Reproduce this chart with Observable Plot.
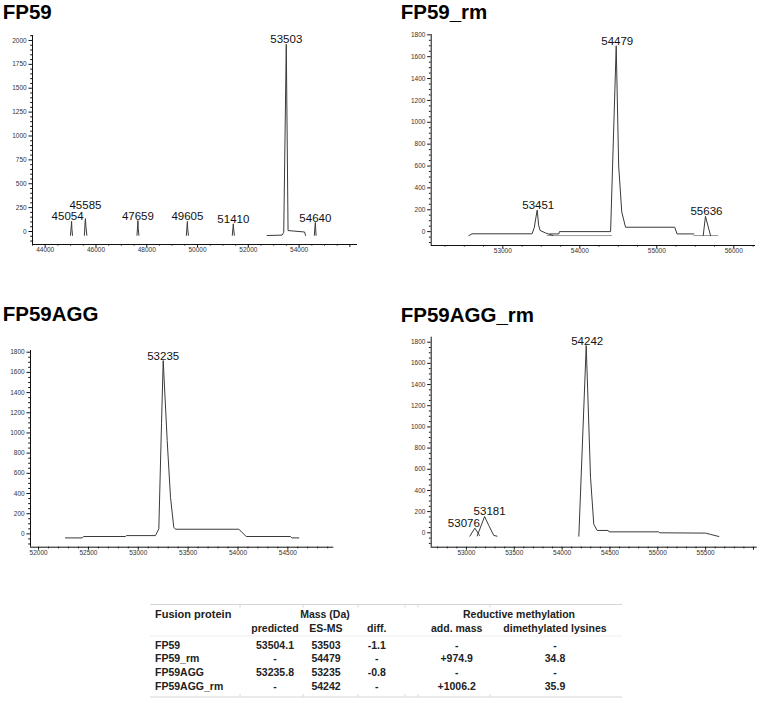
<!DOCTYPE html>
<html><head><meta charset="utf-8">
<script src="https://cdn.jsdelivr.net/npm/d3@7"></script>
<script src="https://cdn.jsdelivr.net/npm/@observablehq/plot@0.6"></script>
<style>
html,body{margin:0;padding:0;background:#fff;}
#root{position:relative;width:760px;height:705px;overflow:hidden;font-family:"Liberation Sans",Arial,sans-serif;}
#root svg{position:absolute;}
</style></head><body><div id="root"></div>
<script>
// ---------- DATA ----------
// FP59 deconvoluted spectrum: [mass (Da), intensity]
const fp59Dark = [
  [[44995,-40],[45025,50],[45040,105],[45052,30],[45075,-40]],
  [[45545,-40],[45570,90],[45585,135],[45605,50],[45640,-40]],
  [[47615,-40],[47640,60],[47652,115],[47665,30],[47690,-40]],
  [[49560,-40],[49585,50],[49600,105],[49612,30],[49640,-40]],
  [[51370,-40],[51395,40],[51410,80],[51422,30],[51450,-40]],
  [[52740,-42],[53330,-38],[53395,-8],[53495,1960],[53565,10],[54215,-5],[54255,-42]],
  [[54600,-40],[54625,50],[54640,94],[54652,30],[54670,-40]]
];
const fp59Light = [];
const fp59Labels = ["45054","45585","47659","49605","51410","53503","54640"];
const fp59LabelMass = [45040,45585,47652,49600,51410,53495,54640];
const fp59LabelIntensity = [105,135,115,105,80,1960,94];

// FP59_rm
const fp59rmDark = [
  [[52560,-36],[52600,-20],[53380,-20],[53410,40],[53430,130],[53447,197],[53465,60],[53485,10],[53555,-12],[53650,-36]],
  [[53611,-21],[53728,-21],[53735,0],[54400,0],[54473,1700],[54505,600],[54545,180],[54594,40],[55234,40],[55263,-21],[55481,-21]],
  [[55603,-36],[55632,140],[55698,-36]]
];
const fp59rmLight = [
  [[53575,-36],[54412,-36]],
  [[55481,-36],[55793,-36]]
];
const fp59rmLabels = ["53451","54479","55636"];
const fp59rmLabelMass = [53447,54473,55632];
const fp59rmLabelIntensity = [197,1700,140];

// FP59AGG
const fp59aggDark = [
  [[52270,-40],[52437,-40],[52453,-26],[52872,-26],[52880,-17],[53172,-17],[53206,50],[53233,1090],[53250,1717],[53290,925],[53323,363],[53356,66],[53373,46],[54008,46],[54030,26],[54082,-26],[54527,-26],[54540,-40],[54610,-40]]
];
const fp59aggLight = [];
const fp59aggLabels = ["53235"];
const fp59aggLabelMass = [53250];
const fp59aggLabelIntensity = [1717];

// FP59AGG_rm
const fp59aggrmDark = [
  [[53036,-32],[53088,44],[53137,-25]],
  [[53113,-30],[53190,154],[53234,69],[53286,-25],[53320,-32]],
  [[54175,-32],[54252,1768],[54297,525],[54331,80],[54367,22],[54482,22],[54490,9],[55011,9],[55020,0],[55499,-3],[55551,-15],[55638,-35]]
];
const fp59aggrmLight = [];
const fp59aggrmLabels = ["53076","53181","54242"];
const fp59aggrmLabelMass = [53088,53190,54252];
const fp59aggrmLabelIntensity = [44,154,1768];

// axis tick labels
const fp59XTicks = [44000,46000,48000,50000,52000,54000,56000];
const fp59XTickText = ["44000","46000","48000","50000","52000","54000",""];
const fp59YTicks = [0,250,500,750,1000,1250,1500,1750,2000];
const fp59rmXTicks = [53000,54000,55000,56000];
const fp59rmXTickText = ["53000","54000","55000","56000"];
const yTicks1800 = [0,200,400,600,800,1000,1200,1400,1600,1800];
const fp59aggXTicks = [52000,52500,53000,53500,54000,54500];
const fp59aggXTickText = ["52000","52500","53000","53500","54000","54500"];
const fp59aggrmXTicks = [53000,53500,54000,54500,55000,55500,56000];
const fp59aggrmXTickText = ["53000","53500","54000","54500","55000","55500",""];

// table
const tableGroups = ["Mass (Da)","Reductive methylation"];
const tableColumns = ["predicted","ES-MS","diff.","add. mass","dimethylated lysines"];
const proteins = ["FP59","FP59_rm","FP59AGG","FP59AGG_rm"];
const predicted = ["53504.1","-","53235.8","-"];
const esms = ["53503","54479","53235","54242"];
const diffs = ["-1.1","-","-0.8","-"];
const addMass = ["-","+974.9","-","+1006.2"];
const dimethyl = ["-","34.8","-","35.9"];

// ---------- DRAWING ----------
const FONT = '"Liberation Sans", Arial, sans-serif';
const root = document.getElementById("root");

function rows(segs){ const out=[]; segs.forEach((s,i)=>s.forEach(p=>out.push({seg:i,x:p[0],y:p[1]}))); return out; }

function panel(cfg){
  const [x0,x1]=cfg.xDomain, [y0,y1]=cfg.yDomain;
  const xMinor = d3.range(cfg.xMinorStart, x1, cfg.xMinorStep).filter(v=>!cfg.xTicks.includes(v));
  const yMinor = d3.range(cfg.yMinorStart, y1, cfg.yMinorStep).filter(v=>!cfg.yTicks.includes(v));
  const xText = new Map(cfg.xTicks.map((t,i)=>[t,cfg.xTickText[i]]));
  const marks = [
    Plot.axisX({ticks: xMinor, tickSize: 1.6, text: null, label: null, anchor: "bottom", stroke:"#111"}),
    Plot.axisX({ticks: cfg.xTicks, tickSize: 3, tickPadding: 0, fontSize: 6.5, tickFormat: d=>xText.get(d), label: null, anchor: "bottom", fill:"#333", stroke:"#111"}),
    Plot.axisY({ticks: yMinor, tickSize: 1.8, text: null, label: null, anchor: "left", stroke:"#111"}),
    Plot.axisY({ticks: cfg.yTicks, tickSize: 3.5, tickPadding: 2.3, fontSize: 6.5, tickFormat: d=>String(d), label: null, anchor: "left", fill:"#333", stroke:"#111"}),
    Plot.ruleX([x0], {stroke:"#111", strokeWidth:1}),
    Plot.ruleY([y0], {stroke:"#111", strokeWidth:1}),
    Plot.line(rows(cfg.light), {x:"x", y:"y", z:"seg", stroke:"#9a9a9a", strokeWidth:1}),
    Plot.line(rows(cfg.dark), {x:"x", y:"y", z:"seg", stroke:"#3a3a3a", strokeWidth:1})
  ];
  cfg.labels.forEach((t,i)=>{
    const sh = cfg.labelShift[i] || [0,0];
    marks.push(Plot.text([{x:cfg.labelMass[i], y:cfg.labelIntensity[i], t}], {x:"x", y:"y", text:"t", lineAnchor:"bottom", textAnchor:"middle", fontSize:11.5, fill:"#111", dx: sh[0], dy: -1 + sh[1]}));
  });
  const svg = Plot.plot({
    width: cfg.width, height: cfg.height,
    marginLeft: cfg.ml, marginRight: cfg.mr, marginTop: cfg.mt, marginBottom: cfg.mb,
    x: {domain: cfg.xDomain},
    y: {domain: cfg.yDomain},
    style: {fontFamily: FONT, background: "transparent", overflow: "visible", color:"#111"},
    marks
  });
  svg.style.left = cfg.left + "px";
  svg.style.top = cfg.top + "px";
  root.appendChild(svg);
}

panel({left:0, top:25, width:370, height:232, ml:32, mr:13, mt:10, mb:13,
  xDomain:[43500,56300], yDomain:[-136,2052],
  xTicks: fp59XTicks, xTickText: fp59XTickText, xMinorStart:43500, xMinorStep:500,
  yTicks: fp59YTicks, yMinorStart:-100, yMinorStep:50,
  dark: fp59Dark, light: fp59Light,
  labels: fp59Labels, labelMass: fp59LabelMass, labelIntensity: fp59LabelIntensity,
  labelShift: [[-4,0],[0,-9],[0,0],[0,0],[0,0],[0,0],[0,0]]});

panel({left:380, top:25, width:380, height:232, ml:50.7, mr:5, mt:9, mb:12,
  xDomain:[52070,56282], yDomain:[-127,1803],
  xTicks: fp59rmXTicks, xTickText: fp59rmXTickText, xMinorStart:52250, xMinorStep:250,
  yTicks: yTicks1800, yMinorStart:-100, yMinorStep:50,
  dark: fp59rmDark, light: fp59rmLight,
  labels: fp59rmLabels, labelMass: fp59rmLabelMass, labelIntensity: fp59rmLabelIntensity,
  labelShift: [[1,0],[1,0],[1,0]]});

panel({left:0, top:330, width:370, height:232, ml:30, mr:36.7, mt:20, mb:15.3,
  xDomain:[51919,54961], yDomain:[-132,1817],
  xTicks: fp59aggXTicks, xTickText: fp59aggXTickText, xMinorStart:52000, xMinorStep:100,
  yTicks: yTicks1800, yMinorStart:-100, yMinorStep:50,
  dark: fp59aggDark, light: fp59aggLight,
  labels: fp59aggLabels, labelMass: fp59aggLabelMass, labelIntensity: fp59aggLabelIntensity,
  labelShift: [[0,0]]});

panel({left:380, top:330, width:380, height:232, ml:50.7, mr:3.3, mt:6.7, mb:15.3,
  xDomain:[52632,56039], yDomain:[-136,1847],
  xTicks: fp59aggrmXTicks, xTickText: fp59aggrmXTickText, xMinorStart:52700, xMinorStep:100,
  yTicks: yTicks1800, yMinorStart:-100, yMinorStep:50,
  dark: fp59aggrmDark, light: fp59aggrmLight,
  labels: fp59aggrmLabels, labelMass: fp59aggrmLabelMass, labelIntensity: fp59aggrmLabelIntensity,
  labelShift: [[-11,0],[5,0],[1,0]]});

// ---------- titles & table overlay ----------
const ov = d3.select(root).append("svg").attr("width",760).attr("height",705)
  .style("left","0px").style("top","0px").style("font-family",FONT);
const titles = ["FP59","FP59_rm","FP59AGG","FP59AGG_rm"];
const titlePos = [[2.7,18.7],[400.7,19],[2.7,321],[400.7,321.5]];
titles.forEach((t,i)=>ov.append("text").attr("x",titlePos[i][0]).attr("y",titlePos[i][1])
  .attr("font-size",20.5).attr("font-weight","bold").attr("fill","#000").text(t));

const tg = ov.append("g").attr("font-size",10.5).attr("font-weight","bold").attr("fill","#222");
const lineC = "#d6d6d6";
[604.5, 697].forEach(y=>tg.append("line").attr("x1",150).attr("x2",622).attr("y1",y).attr("y2",y).attr("stroke",lineC));
tg.append("line").attr("x1",150).attr("x2",622).attr("y1",636).attr("y2",636).attr("stroke","#eeeeee");
[240,303,358,405,418,490].forEach(x=>{
  tg.append("line").attr("x1",x).attr("x2",x).attr("y1",604.5).attr("y2",607.5).attr("stroke",lineC);
  tg.append("line").attr("x1",x).attr("x2",x).attr("y1",694).attr("y2",697).attr("stroke",lineC);
});
const colX = [275,326,376.7,456.7,555];
const groupX = [325,519];
tg.append("text").attr("x",155).attr("y",618).attr("font-size",11).text("Fusion protein");
tableGroups.forEach((g,i)=>tg.append("text").attr("x",groupX[i]).attr("y",618).attr("text-anchor","middle").text(g));
tableColumns.forEach((c,i)=>tg.append("text").attr("x",colX[i]).attr("y",632).attr("text-anchor","middle").text(c));
const rowY = [648.5,662,675.5,689.5];
proteins.forEach((p,r)=>{
  tg.append("text").attr("x",155).attr("y",rowY[r]).text(p);
  [predicted,esms,diffs,addMass,dimethyl].forEach((col,c)=>
    tg.append("text").attr("x",colX[c]).attr("y",rowY[r]).attr("text-anchor","middle").text(col[r]));
});
</script></body></html>
